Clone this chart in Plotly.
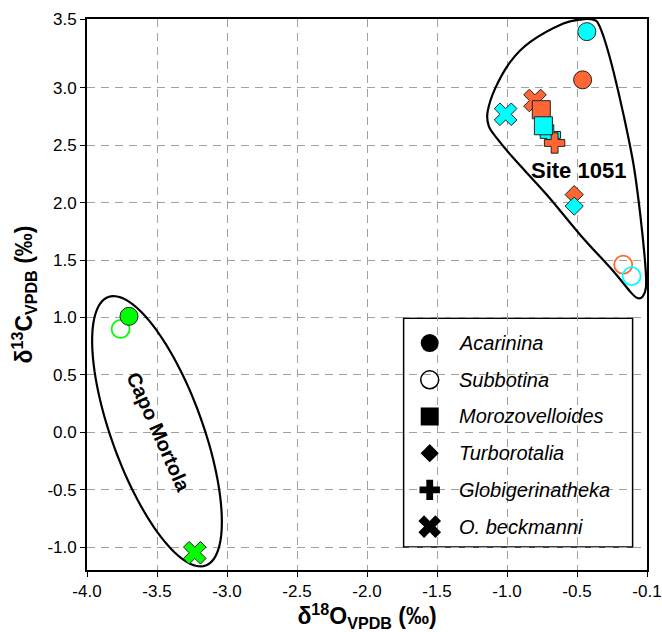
import numpy as np
import plotly.graph_objects as go

# ---------------- data ----------------
species = ["Acarinina", "Subbotina", "Morozovelloides", "Turborotalia",
           "Globigerinatheka", "O. beckmanni"]
symbols = ["circle", "circle-open", "square", "diamond", "cross", "x"]
sizes = [18, 18, 18, 14, 17, 20]

# Site 1051 (orange series)
site_a_d18O = [-0.46, -0.17, -0.755, -0.52, -0.66, -0.80]
site_a_d13C = [3.07, 1.46, 2.81, 2.07, 2.52, 2.89]
# Site 1051 (cyan series)
site_b_d18O = [-0.43, -0.11, -0.74, -0.52, -0.69, -1.01]
site_b_d13C = [3.49, 1.36, 2.67, 1.97, 2.59, 2.77]
# Capo Mortola (green series)
capo_d18O = [-3.70, -3.76, None, None, None, -3.23]
capo_d13C = [1.01, 0.90, None, None, None, -1.05]

x_tickvals = [-4.0, -3.5, -3.0, -2.5, -2.0, -1.5, -1.0, -0.5, 0.0]
x_ticktext = ["-4.0", "-3.5", "-3.0", "-2.5", "-2.0", "-1.5", "-1.0", "-0.5", "-0.1"]
y_tickvals = [-1.0, -0.5, 0.0, 0.5, 1.0, 1.5, 2.0, 2.5, 3.0, 3.6]
y_ticktext = ["-1.0", "-0.5", "0.0", "0.5", "1.0", "1.5", "2.0", "2.5", "3.0", "3.5"]

ORANGE = "#FF6633"
CYAN = "#00FFFF"
GREEN = "#00FF00"
OUTLINE = "#222222"
FONT = "Liberation Sans, Arial, sans-serif"

series = {
    "orange": (site_a_d18O, site_a_d13C, ORANGE),
    "cyan": (site_b_d18O, site_b_d13C, CYAN),
    "green": (capo_d18O, capo_d13C, GREEN),
}

# drawing order (series, species index)
order = [("orange", 0), ("cyan", 0), ("orange", 1), ("cyan", 1),
         ("orange", 5), ("orange", 2), ("cyan", 4), ("orange", 4),
         ("cyan", 2), ("cyan", 5), ("orange", 3), ("cyan", 3),
         ("green", 1), ("green", 0), ("green", 5)]

fig = go.Figure()

for s, i in order:
    xs, ys, col = series[s]
    if xs[i] is None:
        continue
    sym = symbols[i]
    if sym.endswith("open"):
        marker = dict(symbol=sym, size=sizes[i], color=col, line=dict(width=1.8, color=col))
    else:
        marker = dict(symbol=sym, size=sizes[i], color=col, line=dict(width=1, color=OUTLINE))
    fig.add_trace(go.Scatter(x=[xs[i]], y=[ys[i]], mode="markers", marker=marker,
                             name=species[i], showlegend=False, hoverinfo="x+y+name"))

# ---------------- manual legend (overlay axes spanning the plot area) ----------------
leg_x = 0.612
leg_y = [0.4118 - k * 0.0666 for k in range(len(species))]
for i, sp in enumerate(species):
    sym = symbols[i]
    if sym.endswith("open"):
        mk = dict(symbol=sym, size=sizes[i], color="black", line=dict(width=1.5, color="black"))
    else:
        mk = dict(symbol=sym, size=sizes[i], color="black", line=dict(width=0))
    fig.add_trace(go.Scatter(x=[leg_x], y=[leg_y[i]], mode="markers", marker=mk,
                             xaxis="x2", yaxis="y2", showlegend=False, hoverinfo="skip"))
    fig.add_annotation(x=0.661, y=leg_y[i], xref="paper", yref="paper", text="<i>%s</i>" % sp,
                       showarrow=False, xanchor="left", yanchor="middle",
                       font=dict(family=FONT, size=20, color="black"))

fig.add_shape(type="rect", xref="paper", yref="paper", x0=0.5654, x1=0.9743, y0=0.0417, y1=0.4571,
              line=dict(color="black", width=1.5), fillcolor="white", layer="between")

# ---------------- outlines ----------------
X0PX, PXX = 86.7, 140.0   # pixel of -4.0, px per unit
Y0PX, PXY = 87.7, 115.0   # pixel of 3.0, px per unit


def to_data(px, py):
    return -4.0 + (px - X0PX) / PXX, 3.0 - (py - Y0PX) / PXY


site_outline_px = [(593.3, 19.5), (598.3, 24), (605, 41.7), (613.3, 71.7), (623.3, 115),
                   (633.3, 165), (640, 215), (645, 265), (645.7, 287), (642.5, 296.5),
                   (637, 298.3), (630, 292), (613.3, 271.7), (580, 235), (546.7, 195),
                   (513.3, 158.3), (496.7, 138.3), (488.5, 126), (487.3, 111.7),
                   (495, 88), (510, 61.7), (530, 41.7), (563, 23.3), (582, 19)]


def closed_catmull_path(pts):
    n = len(pts)
    P = [np.array(to_data(*p)) for p in pts]
    d = "M %.4f,%.4f" % tuple(P[0])
    for k in range(n):
        p0, p1, p2, p3 = P[(k - 1) % n], P[k], P[(k + 1) % n], P[(k + 2) % n]
        c1 = p1 + (p2 - p0) / 6.0
        c2 = p2 - (p3 - p1) / 6.0
        d += " C %.4f,%.4f %.4f,%.4f %.4f,%.4f" % (c1[0], c1[1], c2[0], c2[1], p2[0], p2[1])
    return d + " Z"


fig.add_shape(type="path", path=closed_catmull_path(site_outline_px), xref="x", yref="y",
              line=dict(color="black", width=2.2), layer="between")

# Capo Mortola ellipse (pixel-space geometry)
cx, cy, a, b = 156.7, 431.7, 143.0, 45.6
u = np.array([97.0, 268.0]); u = u / np.linalg.norm(u)
v = np.array([u[1], -u[0]])
t = np.linspace(0, 2 * np.pi, 121)
ell = [to_data(cx + a * np.cos(tt) * u[0] + b * np.sin(tt) * v[0],
               cy + a * np.cos(tt) * u[1] + b * np.sin(tt) * v[1]) for tt in t]
ell_path = "M " + " L ".join("%.4f,%.4f" % p for p in ell) + " Z"
fig.add_shape(type="path", path=ell_path, xref="x", yref="y",
              line=dict(color="black", width=2.2), layer="between")

fig.add_annotation(x=-0.49, y=2.28, text="<b>Site 1051</b>", showarrow=False,
                   font=dict(family=FONT, size=22, color="black"))
fig.add_annotation(x=-3.49, y=0.0, text="<b>Capo Mortola</b>", showarrow=False, textangle=66,
                   font=dict(family=FONT, size=20, color="black"))

axis_common = dict(showline=True, linecolor="black", linewidth=1.8, mirror=True,
                   ticks="outside", ticklen=5, tickwidth=1.3, tickcolor="black",
                   showgrid=True, gridcolor="#A0A0A0", gridwidth=1.3, griddash="8px,6px",
                   zeroline=False, automargin=False,
                   tickfont=dict(family=FONT, size=17, color="black"))

fig.update_layout(
    width=662, height=632,
    margin=dict(l=87, r=15, t=19, b=62),
    paper_bgcolor="white", plot_bgcolor="white",
    showlegend=False,
    xaxis=dict(range=[-4.0, 0.0], tickvals=x_tickvals, ticktext=x_ticktext,
               title=dict(text="<b>δ<sup>18</sup>O<sub>VPDB</sub> (‰)</b>", standoff=8,
                          font=dict(family=FONT, size=23, color="black")), **axis_common),
    yaxis=dict(range=[-1.2, 3.6], tickvals=y_tickvals, ticktext=y_ticktext,
               title=dict(text="<b>δ<sup>13</sup>C<sub>VPDB</sub> (‰)</b>", standoff=8,
                          font=dict(family=FONT, size=23, color="black")), **axis_common),
    xaxis2=dict(overlaying="x", range=[0, 1], visible=False),
    yaxis2=dict(overlaying="y", range=[0, 1], visible=False),
)

fig.write_html("out.html")
